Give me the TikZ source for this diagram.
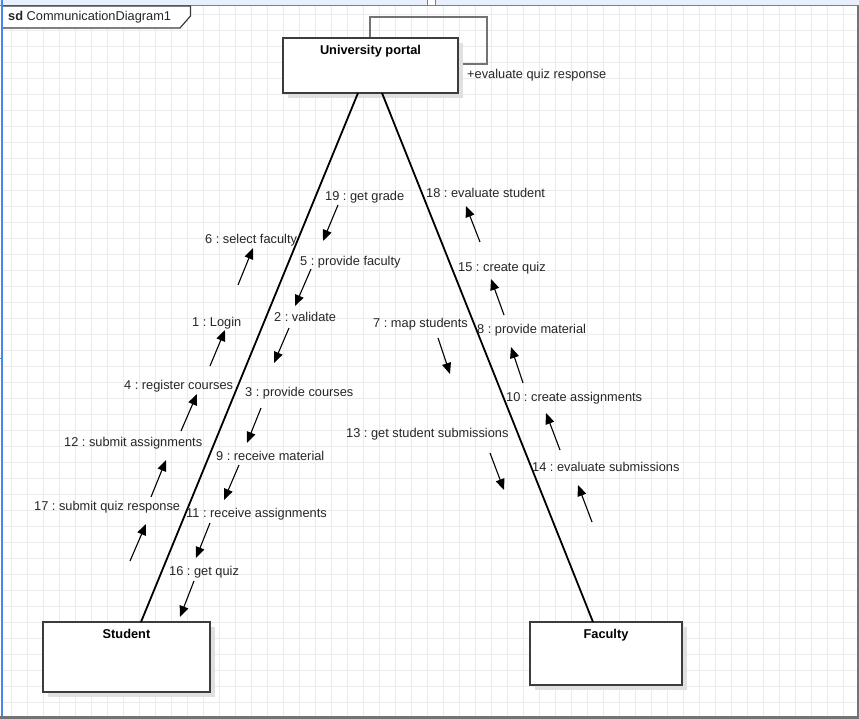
\documentclass[tikz,border=0pt]{standalone}
\usepackage{fontspec}
\setmainfont{Liberation Sans}
\usetikzlibrary{arrows.meta}
\definecolor{gridgray}{HTML}{EBEBEB}
\definecolor{bandblue}{HTML}{E8F0FD}
\definecolor{edgeblue}{HTML}{4A86E8}
\definecolor{boxgray}{HTML}{3C3C3C}
\definecolor{shadowgray}{HTML}{E0E0E0}
\newcommand{\msgarrow}[3]{\coordinate (#1s) at (#2); \coordinate (#1e) at (#3); \draw[msg] (#1s) -- (#1e);}
\frenchspacing

\begin{document}
\begin{tikzpicture}[x=1pt,y=-1pt,
  every node/.style={font=\fontsize{12.8}{15}\selectfont},
  obj/.style={draw=boxgray,line width=1.5pt,fill=white,rectangle,anchor=north west,inner sep=0pt,outer sep=0pt,
    preaction={draw=none,fill=shadowgray,transform canvas={xshift=5pt,yshift=-5pt}}},
  objtitle/.style={anchor=north,inner sep=0pt,yshift=-7.5pt,font=\bfseries\fontsize{12.8}{15}\selectfont},
  link/.style={line width=1.8pt},
  msg/.style={line width=1.1pt,-{Triangle[length=11pt,width=9pt]}},
  lbl/.style={anchor=base west,inner sep=0pt,text=black!85}]
\useasboundingbox (0,0) rectangle (859,719);
\fill[white] (0,0) rectangle (859,719);
% grid
\foreach \gx in {11.7,27.7,...,859} \draw[gridgray,line width=0.8pt] (\gx,6) -- (\gx,717);
\foreach \gy in {14.3,30.3,...,717} \draw[gridgray,line width=0.8pt] (3,\gy) -- (858,\gy);
% page edges
\fill[bandblue] (0,0) rectangle (859,5);
\draw[edgeblue,line width=1.2pt] (0,5.5) -- (859,5.5);
\draw[edgeblue,fill=white,line width=1pt] (427,0) rectangle (435,5.5);
\draw[edgeblue,line width=2pt] (1.5,0) -- (1.5,719);
\draw[edgeblue,line width=1pt] (0,358) -- (3,358);
\draw[black!55,line width=1.5pt] (858,6) -- (858,719);
\draw[black!55,line width=3pt] (0,717.5) -- (859,717.5);
% frame header
\draw[boxgray,fill=white,line width=1.2pt] (3,6) -- (190.5,6) -- (190.5,16) -- (180,28) -- (3,28);
\node[lbl] (frame) at (8,20.5) {\textbf{sd} CommunicationDiagram1};

% self message
\draw[black!55,line width=1.5pt] (370,38) |- (487,17) |- (458,64);
\node[lbl] (selflbl) at (467,78.5) {+evaluate quiz response};

% objects
\node[obj,minimum width=175pt,minimum height=55pt,label={[objtitle]north:University portal}] (portal) at (283,38) {};
\node[obj,minimum width=167pt,minimum height=70pt,label={[objtitle]north:Student}] (student) at (43,622) {};
\node[obj,minimum width=152pt,minimum height=63pt,label={[objtitle]north:Faculty}] (faculty) at (530,622) {};

% links
\draw[link] ([xshift=14.5pt]student.north) -- ([xshift=-12.5pt]portal.south);
\draw[link] ([xshift=11.5pt]portal.south) -- ([xshift=-13pt]faculty.north);

% student -> portal
\msgarrow{m1}{210,366}{225,330}
\node[lbl] (l1) at (192,326.5) {1 : Login};
\msgarrow{m4}{181,431}{197,394}
\node[lbl] (l4) at (124,389.5) {4 : register courses};
\msgarrow{m6}{238,285}{253,248}
\node[lbl] (l6) at (205,243.5) {6 : select faculty};
\msgarrow{m12}{151,497}{166,460}
\node[lbl] (l12) at (64,446.5) {12 : submit assignments};
\msgarrow{m17}{130,561}{146,524}
\node[lbl] (l17) at (34,510.5) {17 : submit quiz response};

% portal -> student
\msgarrow{m2}{289,328}{274,363}
\node[lbl] (l2) at (274,321.5) {2 : validate};
\msgarrow{m3}{261,408}{247,443}
\node[lbl] (l3) at (245,396.5) {3 : provide courses};
\msgarrow{m5}{311,269}{295,306}
\node[lbl] (l5) at (300,265.5) {5 : provide faculty};
\msgarrow{m9}{239,465}{224,500}
\node[lbl] (l9) at (216,460.5) {9 : receive material};
\msgarrow{m11}{210,523}{196,558}
\node[lbl] (l11) at (186,517.5) {11 : receive assignments};
\msgarrow{m16}{194,581}{180,617}
\node[lbl] (l16) at (169,575.5) {16 : get quiz};
\msgarrow{m19}{338,205}{323,241}
\node[lbl] (l19) at (325,200.5) {19 : get grade};

% portal -> faculty
\msgarrow{m7}{438,338}{450,374}
\node[lbl] (l7) at (373,327.5) {7 : map students};
\msgarrow{m13}{490,453}{504,490}
\node[lbl] (l13) at (346,437.5) {13 : get student submissions};

% faculty -> portal
\msgarrow{m8}{523,383}{511,347}
\node[lbl] (l8) at (477,333.5) {8 : provide material};
\msgarrow{m10}{560,450}{546,413}
\node[lbl] (l10) at (506,401.5) {10 : create assignments};
\msgarrow{m14}{592,522}{578,485}
\node[lbl] (l14) at (532,471.5) {14 : evaluate submissions};
\msgarrow{m15}{504,315}{491,279}
\node[lbl] (l15) at (458,271.5) {15 : create quiz};
\msgarrow{m18}{480,242}{466,206}
\node[lbl] (l18) at (426,197.5) {18 : evaluate student};
\end{tikzpicture}
\end{document}
